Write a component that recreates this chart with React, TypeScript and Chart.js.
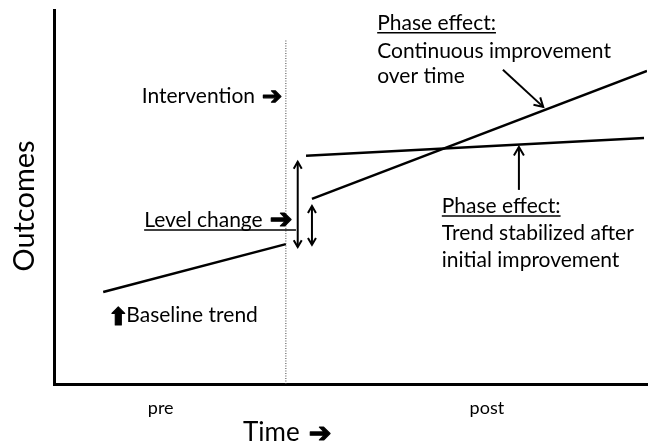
import React, { useEffect, useRef } from "react";
import { Chart, registerables } from "chart.js";

Chart.register(...registerables);

// ---- data (diagram units: time 0..100, outcome 0..100) ----
const PHASE_LABELS = ["pre", "post"];
const PHASE_TICK_POSITIONS = [18, 73];

const INTERVENTION_X = [39.1, 39.1];
const INTERVENTION_Y = [0, 92];

const BASELINE_X = [8.3, 39.1];
const BASELINE_Y = [24.6, 37.4];

const CONTINUOUS_X = [43.5, 100];
const CONTINUOUS_Y = [49.5, 83.7];

const STABILIZED_X = [42.5, 99.5];
const STABILIZED_Y = [61.0, 65.8];

const LEVEL_LARGE_X = [41.1, 41.1];
const LEVEL_LARGE_Y = [36.6, 59.4];

const LEVEL_SMALL_X = [43.5, 43.5];
const LEVEL_SMALL_Y = [37.2, 47.6];

const CONT_POINTER_X = [75.7, 82.5];
const CONT_POINTER_Y = [84.0, 74.1];

const STAB_POINTER_X = [78.4, 78.4];
const STAB_POINTER_Y = [51.9, 63.4];

const X_TITLE = "Time";
const Y_TITLE = "Outcomes";
const RIGHT_ARROW = "\u2794";
const UP_ARROW = "\u2B06";

const zip = (xs: number[], ys: number[]) => xs.map((x, i) => ({ x, y: ys[i] }));

const FONT = "Lato, 'Open Sans', 'DejaVu Sans', sans-serif";
const GLYPH_FONT = "'DejaVu Sans', sans-serif";

type Label = {
  text: string;
  x: number;
  y: number;
  underline?: boolean;
  underlineTo?: number;
  suffix?: string;
  suffixSize?: number;
  prefix?: string;
  prefixSize?: number;
};

const LABELS: Label[] = [
  { text: "Phase effect:", x: 54.5, y: 94.7, underline: true },
  { text: "Continuous improvement", x: 54.5, y: 87.2 },
  { text: "over time", x: 54.5, y: 80.5 },
  { text: "Phase effect:", x: 65.4, y: 45.7, underline: true },
  { text: "Trend stabilized after", x: 65.4, y: 38.5 },
  { text: "initial improvement", x: 65.4, y: 31.3 },
  { text: "Intervention", x: 14.8, y: 75.1, suffix: RIGHT_ARROW, suffixSize: 24 },
  { text: "Level change", x: 15.2, y: 42.0, underline: true, underlineTo: 40.8, suffix: RIGHT_ARROW, suffixSize: 27 },
  { text: "Baseline trend", x: 12.2, y: 16.6, prefix: UP_ARROW, prefixSize: 24 },
];

function drawHead(ctx: CanvasRenderingContext2D, fx: number, fy: number, tx: number, ty: number, size: number) {
  const a = Math.atan2(ty - fy, tx - fx);
  ctx.beginPath();
  ctx.moveTo(tx - size * Math.cos(a - Math.PI / 6), ty - size * Math.sin(a - Math.PI / 6));
  ctx.lineTo(tx, ty);
  ctx.lineTo(tx - size * Math.cos(a + Math.PI / 6), ty - size * Math.sin(a + Math.PI / 6));
  ctx.stroke();
}

function heavyGlyph(ctx: CanvasRenderingContext2D, g: string, x: number, y: number) {
  ctx.fillText(g, x, y);
  ctx.lineWidth = 1.2;
  ctx.lineJoin = "round";
  ctx.strokeText(g, x, y);
}

const annotationPlugin = {
  id: "diagramAnnotations",
  afterDatasetsDraw(chart: any) {
    const { ctx } = chart;
    const xs = chart.scales.x;
    const ys = chart.scales.y;
    ctx.save();
    ctx.lineCap = "butt";
    ctx.lineJoin = "miter";
    chart.data.datasets.forEach((ds: any, i: number) => {
      if (!ds.arrowHeads) return;
      const pts = chart.getDatasetMeta(i).data;
      const a = pts[0];
      const b = pts[pts.length - 1];
      ctx.strokeStyle = "#000";
      ctx.lineWidth = ds.borderWidth;
      const s = ds.headSize || 8;
      drawHead(ctx, a.x, a.y, b.x, b.y, s);
      if (ds.arrowHeads === "both") drawHead(ctx, b.x, b.y, a.x, a.y, s);
    });
    ctx.fillStyle = "#000";
    ctx.strokeStyle = "#000";
    ctx.textBaseline = "alphabetic";
    ctx.textAlign = "left";
    LABELS.forEach((l) => {
      const size = 21;
      const px = xs.getPixelForValue(l.x);
      const py = ys.getPixelForValue(l.y);
      ctx.font = `${size}px ${FONT}`;
      const w = ctx.measureText(l.text).width;
      ctx.fillText(l.text, px, py);
      if (l.prefix) {
        ctx.font = `bold ${l.prefixSize}px ${GLYPH_FONT}`;
        const pw = ctx.measureText(l.prefix).width;
        heavyGlyph(ctx, l.prefix, px - pw + 2, py + 3);
      }
      if (l.suffix) {
        ctx.font = `bold ${l.suffixSize}px ${GLYPH_FONT}`;
        heavyGlyph(ctx, l.suffix, px + w + 7, py + 1);
      }
      if (l.underline) {
        const end = l.underlineTo !== undefined ? xs.getPixelForValue(l.underlineTo) : px + w;
        ctx.lineWidth = 1.5;
        ctx.beginPath();
        ctx.moveTo(px, py + 3);
        ctx.lineTo(end, py + 3);
        ctx.stroke();
      }
    });
    // axis titles (outside plot area)
    ctx.textAlign = "left";
    ctx.font = `26px ${FONT}`;
    const tx = 243;
    const tw = ctx.measureText(X_TITLE).width;
    ctx.fillText(X_TITLE, tx, 441);
    ctx.font = `bold 27px ${GLYPH_FONT}`;
    heavyGlyph(ctx, RIGHT_ARROW, tx + tw + 9, 442);
    ctx.save();
    ctx.translate(34, 206);
    ctx.rotate(-Math.PI / 2);
    ctx.font = `29px ${FONT}`;
    ctx.textAlign = "center";
    ctx.fillText(Y_TITLE, 0, 0);
    ctx.restore();
    ctx.restore();
  },
};

export default function App() {
  const ref = useRef<HTMLCanvasElement>(null);
  useEffect(() => {
    if (!ref.current) return;
    const line = (xs: number[], ys: number[], extra: any = {}) => ({
      data: zip(xs, ys),
      showLine: true,
      pointRadius: 0,
      borderColor: "#000",
      backgroundColor: "#000",
      borderWidth: 2.5,
      fill: false,
      tension: 0,
      ...extra,
    });
    const chart = new Chart(ref.current, {
      type: "line",
      data: {
        datasets: [
          line(INTERVENTION_X, INTERVENTION_Y, { label: "Intervention", borderWidth: 1, borderColor: "#444", borderDash: [1, 1.5] }),
          line(BASELINE_X, BASELINE_Y, { label: "Baseline trend" }),
          line(CONTINUOUS_X, CONTINUOUS_Y, { label: "Continuous improvement" }),
          line(STABILIZED_X, STABILIZED_Y, { label: "Trend stabilized" }),
          line(LEVEL_LARGE_X, LEVEL_LARGE_Y, { label: "Level change (stabilized)", borderWidth: 2, arrowHeads: "both", headSize: 8 }),
          line(LEVEL_SMALL_X, LEVEL_SMALL_Y, { label: "Level change (continuous)", borderWidth: 2, arrowHeads: "both", headSize: 8 }),
          line(CONT_POINTER_X, CONT_POINTER_Y, { label: "pointer 1", borderWidth: 2, arrowHeads: "end", headSize: 10 }),
          line(STAB_POINTER_X, STAB_POINTER_Y, { label: "pointer 2", borderWidth: 2, arrowHeads: "end", headSize: 10 }),
        ] as any,
      },
      options: {
        responsive: false,
        animation: false,
        events: [],
        layout: { padding: { left: 0, top: 10, right: 5, bottom: 0 } },
        plugins: { legend: { display: false }, tooltip: { enabled: false }, title: { display: false } },
        scales: {
          x: {
            type: "linear",
            min: 0,
            max: 100,
            afterBuildTicks: (scale: any) => {
              scale.ticks = PHASE_TICK_POSITIONS.map((v) => ({ value: v }));
            },
            afterFit: (scale: any) => {
              scale.height = 62;
            },
            ticks: {
              autoSkip: false,
              maxRotation: 0,
              padding: 5,
              color: "#000",
              font: { family: FONT, size: 18 },
              callback: (v: any) => {
                const idx = PHASE_TICK_POSITIONS.indexOf(Number(v));
                return idx >= 0 ? PHASE_LABELS[idx] : "";
              },
            },
            grid: { display: false },
            border: { display: true, color: "#000", width: 3 },
          },
          y: {
            type: "linear",
            min: 0,
            max: 100,
            afterFit: (scale: any) => {
              scale.width = 54;
            },
            ticks: { display: false },
            grid: { display: false },
            border: { display: true, color: "#000", width: 3 },
          },
        },
      },
      plugins: [annotationPlugin],
    });
    return () => chart.destroy();
  }, []);
  return (
    <div style={{ position: "fixed", left: 0, top: 0, width: 652, height: 446, background: "#fff" }}>
      <canvas ref={ref} width={652} height={446} style={{ display: "block" }} />
    </div>
  );
}
